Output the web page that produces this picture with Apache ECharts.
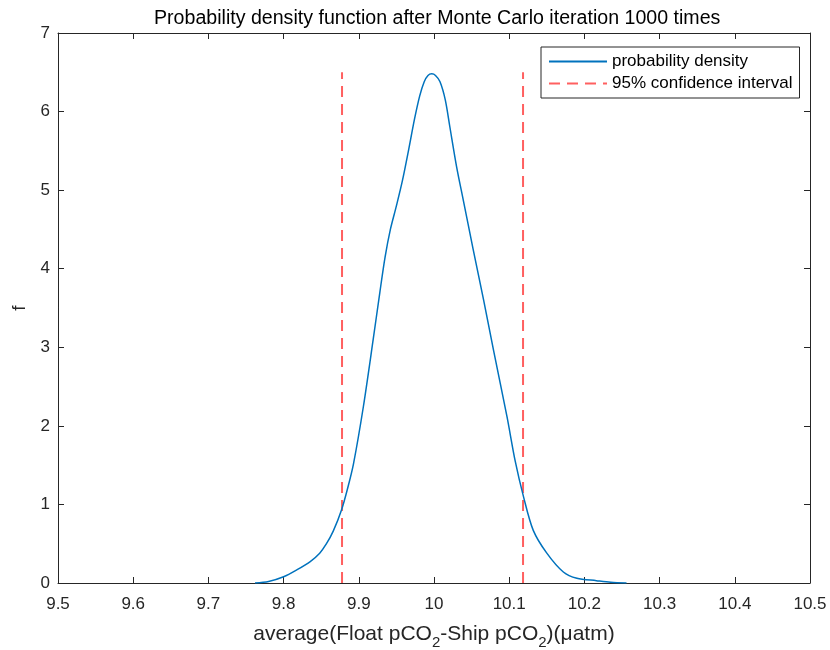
<!DOCTYPE html>
<html>
<head>
<meta charset="utf-8">
<script src="https://cdn.jsdelivr.net/npm/echarts@6/dist/echarts.min.js"></script>
<style>html,body{margin:0;padding:0;background:#fff;}#c{width:830px;height:650px;}</style>
</head>
<body>
<div id="c"></div>
<script>
const titleText = 'Probability density function after Monte Carlo iteration 1000 times';
const xTicksMin = 9.5, xTicksMax = 10.5, xStep = 0.1;
const yTicksMin = 0, yTicksMax = 7, yStep = 1;
const densityX = [9.762, 9.780, 9.800, 9.818, 9.835, 9.848, 9.857, 9.866, 9.877, 9.885, 9.893, 9.906, 9.919, 9.928, 9.935, 9.942, 9.950, 9.958, 9.966, 9.974, 9.981, 9.987, 9.992, 9.997, 10.002, 10.008, 10.015, 10.021, 10.030, 10.039, 10.052, 10.066, 10.079, 10.097, 10.108, 10.119, 10.132, 10.150, 10.172, 10.190, 10.216, 10.235, 10.256];
const densityY = [0, 0.02, 0.08, 0.17, 0.27, 0.38, 0.50, 0.66, 0.93, 1.20, 1.52, 2.24, 3.09, 3.70, 4.15, 4.50, 4.80, 5.12, 5.50, 5.90, 6.20, 6.38, 6.46, 6.48, 6.46, 6.38, 6.15, 5.81, 5.30, 4.87, 4.25, 3.60, 2.97, 2.12, 1.55, 1.10, 0.67, 0.38, 0.14, 0.06, 0.03, 0.01, 0];
const ciBounds = [9.8777, 10.1184];
const ciHeight = 6.5;

const densityData = densityX.map((x, i) => [x, densityY[i]]);
const txt = '#262626';
const chart = echarts.init(document.getElementById('c'), null, {renderer: 'canvas'});
const fam = 'Liberation Sans, Arial, sans-serif';
const axisCommon = {
  axisLine: {show: true, onZero: false, lineStyle: {color: txt, width: 1}},
  axisTick: {show: true, inside: true, length: 6, lineStyle: {color: txt, width: 1}},
  splitLine: {show: false}
};
const ciSeries = ciBounds.map(b => ({
  name: '95% confidence interval', type: 'line', symbol: 'none', showSymbol: false,
  data: [[b, 0], [b, ciHeight]],
  lineStyle: {color: '#ff6060', width: 2, type: [11, 7]},
  itemStyle: {color: '#ff6060'},
  z: 3
}));
chart.setOption({
  animation: false,
  backgroundColor: '#fff',
  title: {text: titleText, left: 149, top: 4,
    textStyle: {fontFamily: fam, fontSize: 19.6, fontWeight: 'normal', color: '#000'}},
  grid: {left: 58, right: 20, top: 33, bottom: 67, containLabel: false, outerBoundsMode: 'none'},
  legend: {
    left: 541, top: 47, orient: 'vertical',
    data: ['probability density', '95% confidence interval'],
    itemWidth: 58, itemHeight: 14, itemGap: 5,
    padding: [6, 7, 6, 7],
    borderColor: txt, borderWidth: 1, backgroundColor: '#fff', borderRadius: 0,
    itemStyle: {color: 'rgba(0,0,0,0)', borderColor: 'rgba(0,0,0,0)', borderWidth: 0},
    textStyle: {fontFamily: fam, fontSize: 17, color: '#000'}
  },
  xAxis: [
    Object.assign({type: 'value', position: 'bottom', min: xTicksMin, max: xTicksMax, interval: xStep,
      name: '{a|average(Float pCO}{s|2}{a|-Ship pCO}{s|2}{a|)(μatm)}',
      nameLocation: 'middle', nameGap: 41,
      nameTextStyle: {rich: {
        a: {fontFamily: fam, fontSize: 21, color: txt, verticalAlign: 'top', lineHeight: 27},
        s: {fontFamily: fam, fontSize: 15, color: txt, verticalAlign: 'top', lineHeight: 27, padding: [11, 0, 0, 0]}
      }},
      axisLabel: {fontFamily: fam, fontSize: 17, color: txt, margin: 13,
        formatter: v => String(Math.round(v * 10) / 10)}
    }, axisCommon),
    Object.assign({type: 'value', position: 'top', min: xTicksMin, max: xTicksMax, interval: xStep,
      axisLabel: {show: false}}, axisCommon)
  ],
  yAxis: [
    Object.assign({type: 'value', position: 'left', min: yTicksMin, max: yTicksMax, interval: yStep,
      name: 'f', nameLocation: 'middle', nameGap: 28,
      nameTextStyle: {fontFamily: fam, fontSize: 19, color: txt},
      axisLabel: {fontFamily: fam, fontSize: 17, color: txt, margin: 8}
    }, axisCommon),
    Object.assign({type: 'value', position: 'right', min: yTicksMin, max: yTicksMax, interval: yStep,
      axisLabel: {show: false}}, axisCommon)
  ],
  series: [
    {name: 'probability density', type: 'line', symbol: 'none', showSymbol: false,
     data: densityData, smooth: 0.3,
     lineStyle: {color: '#0072BD', width: 1.5}, itemStyle: {color: '#0072BD'}, z: 4}
  ].concat(ciSeries)
});
</script>
</body>
</html>
